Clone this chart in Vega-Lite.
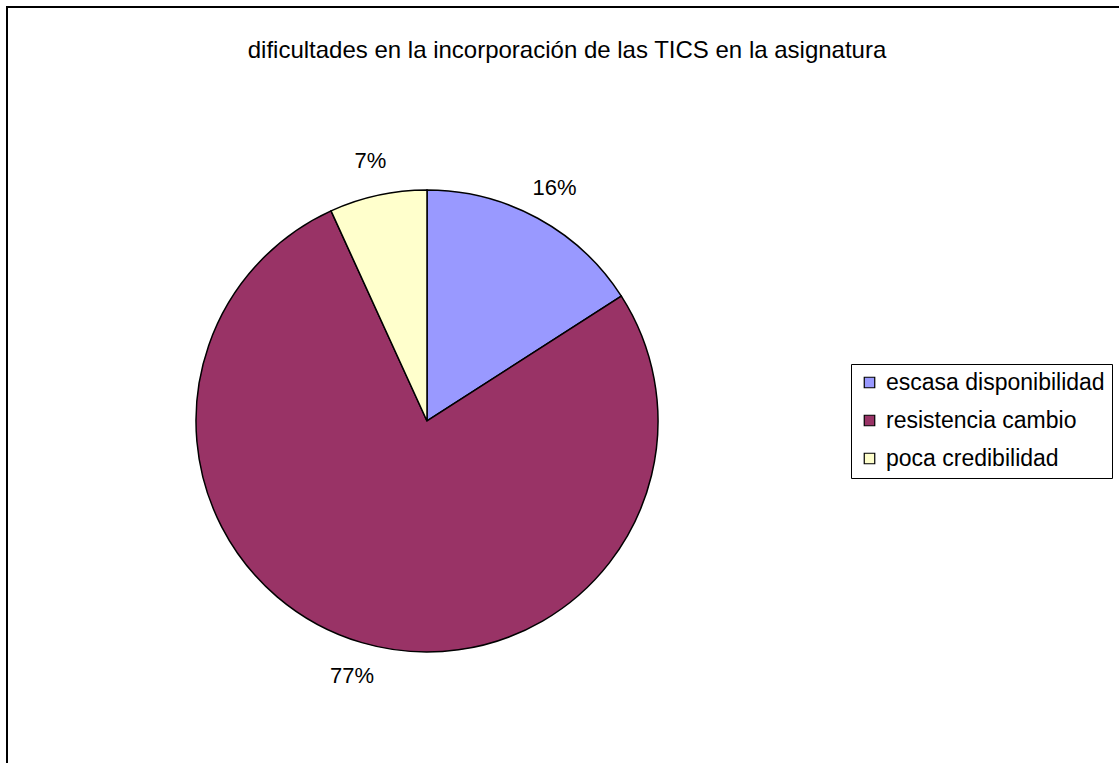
{
  "$schema": "https://vega.github.io/schema/vega-lite/v6.json",
  "autosize": "none",
  "padding": {"left": 7, "top": 7, "right": 0, "bottom": 0},
  "width": 1120,
  "height": 800,
  "background": "white",
  "config": {
    "view": {"stroke": null},
    "font": "Liberation Sans"
  },
  "title": {
    "text": "dificultades en la incorporación de las TICS en la asignatura",
    "orient": "top",
    "anchor": "middle",
    "offset": -57,
    "fontSize": 24,
    "fontWeight": "normal",
    "font": "Liberation Sans",
    "color": "black"
  },
  "datasets": {
    "dificultades": [
      {"categoria": "escasa disponibilidad", "n": 7, "orden": 1, "etiqueta": "16%"},
      {"categoria": "resistencia cambio", "n": 34, "orden": 2, "etiqueta": "77%"},
      {"categoria": "poca credibilidad", "n": 3, "orden": 3, "etiqueta": "7%"}
    ],
    "marco": [{"marco": "borde"}]
  },
  "layer": [
    {
      "data": {"name": "marco"},
      "mark": {"type": "rect", "fill": null, "stroke": "black", "strokeWidth": 2},
      "encoding": {
        "x": {"value": 0},
        "x2": {"value": {"expr": "width"}},
        "y": {"value": 0},
        "y2": {"value": {"expr": "height"}}
      }
    },
    {
      "data": {"name": "dificultades"},
      "mark": {"type": "arc", "x": 420, "y": 414, "outerRadius": 231, "stroke": "black", "strokeWidth": 1.5},
      "encoding": {
        "theta": {"field": "n", "type": "quantitative", "stack": true},
        "order": {"field": "orden", "type": "quantitative"},
        "color": {
          "field": "categoria",
          "type": "nominal",
          "sort": ["escasa disponibilidad", "resistencia cambio", "poca credibilidad"],
          "scale": {
            "domain": ["escasa disponibilidad", "resistencia cambio", "poca credibilidad"],
            "range": ["#9999FF", "#993366", "#FFFFCC"]
          },
          "legend": {
            "title": null,
            "orient": "none",
            "legendX": 844,
            "legendY": 357,
            "direction": "vertical",
            "strokeColor": "black",
            "padding": 7,
            "symbolType": "square",
            "symbolSize": 110,
            "symbolStrokeColor": "black",
            "symbolStrokeWidth": 1.2,
            "symbolOpacity": 1,
            "labelFontSize": 23,
            "labelFont": "Liberation Sans",
            "labelColor": "black",
            "labelLimit": 400,
            "labelOffset": 5,
            "rowPadding": 14
          }
        }
      }
    },
    {
      "data": {"name": "dificultades"},
      "mark": {"type": "text", "x": 420, "y": 414, "radius": 266, "fontSize": 22, "font": "Liberation Sans", "color": "black"},
      "encoding": {
        "theta": {"field": "n", "type": "quantitative", "stack": true},
        "order": {"field": "orden", "type": "quantitative"},
        "text": {"field": "etiqueta", "type": "nominal"}
      }
    }
  ]
}
